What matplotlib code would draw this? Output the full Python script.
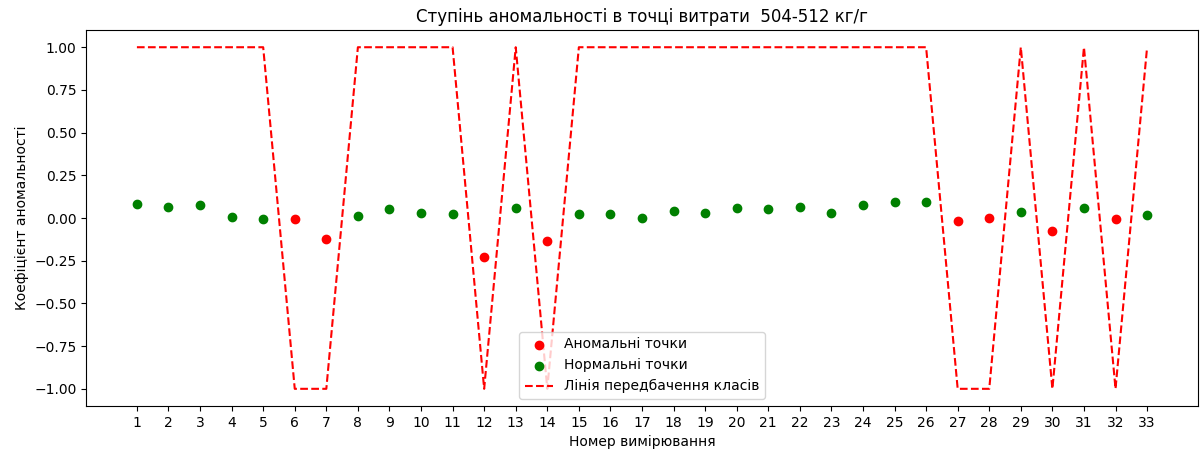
import numpy as np
from matplotlib import pyplot as plt

x = np.arange(1, 34)
scores = [0.084, 0.063, 0.074, 0.004, -0.005, -0.008, -0.12, 0.01, 0.055, 0.032,
          0.025, -0.228, 0.06, -0.135, 0.021, 0.021, -0.002, 0.043, 0.031, 0.06,
          0.053, 0.065, 0.031, 0.076, 0.092, 0.092, -0.018, -0.002, 0.037, -0.078,
          0.061, -0.006, 0.016]
anomaly = [6, 7, 12, 14, 27, 28, 30, 32]

scores = np.array(scores)
is_anom = np.isin(x, anomaly)
pred = np.where(is_anom, -1, 1)

fig, ax = plt.subplots(figsize=(12, 4.5), dpi=100)
ax.scatter(x[is_anom], scores[is_anom], color='red', label='Аномальні точки')
ax.scatter(x[~is_anom], scores[~is_anom], color='green', label='Нормальні точки')
ax.plot(x, pred, 'r--', label='Лінія передбачення класів')
ax.set_xticks(x)
ax.set_title('Ступінь аномальності в точці витрати  504-512 кг/г')
ax.set_xlabel('Номер вимірювання')
ax.set_ylabel('Коефіцієнт аномальності')
ax.legend(loc='lower center')
fig.subplots_adjust(left=0.072, right=0.998, top=0.933, bottom=0.098)
fig.savefig('out.png')
